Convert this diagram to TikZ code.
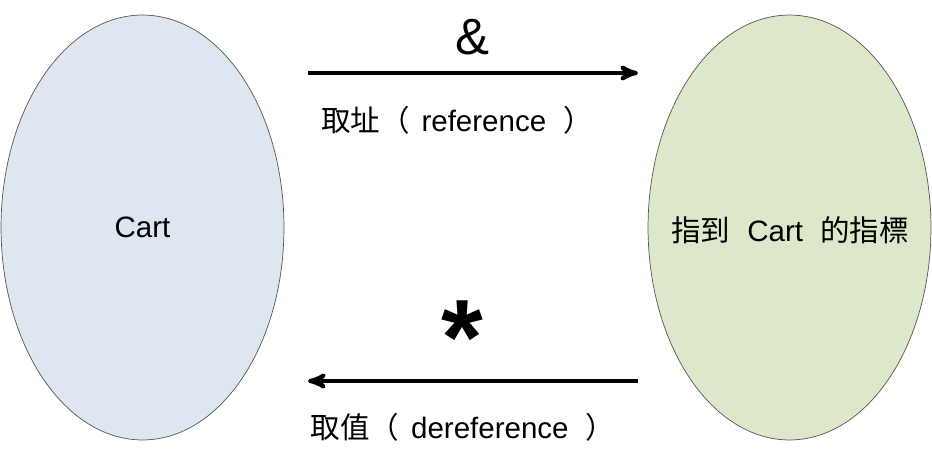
\documentclass[tikz,border=0pt]{standalone}
\usepackage{fontspec}
\setmainfont{Liberation Sans}
\newfontfamily\cjk{Noto Sans CJK TC}
\usetikzlibrary{arrows,shapes.geometric}
\definecolor{cartblue}{HTML}{DEE6EF}
\definecolor{ptrgreen}{HTML}{DDE8CB}
\definecolor{rimgray}{HTML}{555555}

\begin{document}
\begin{tikzpicture}[x=0.02cm,y=0.02cm,>=stealth',
  blob/.style={draw=rimgray,ellipse,minimum width=5.66cm,minimum height=8.5cm,inner sep=0pt},
  every node/.style={font=\fontsize{16.8}{20}\selectfont}]
\useasboundingbox (0,0) rectangle (932,451);

% Locations
\def\TopRow{378}
\def\BottomRow{70}
\def\Gap{\hspace{0.3em}}
\def\SmallGap{\hspace{0.12em}}

% Objects
\path (142.5,223.5) node[blob,fill=cartblue] (Cart) {}
      (789.5,223.5) node[blob,fill=ptrgreen] (Pointer) {};
\node (CartText) at (Cart) {Cart};
\node (PointerText) at (790,221) {{\cjk 指到}\Gap{} Cart \Gap{\cjk 的指標}};

% Ends of the arrows
\path (308,\TopRow) coordinate (RefStart)
      (638,\TopRow) coordinate (RefEnd)
      (638,\BottomRow) coordinate (DerefStart)
      (308,\BottomRow) coordinate (DerefEnd);

% Arrows
\draw[->,line width=2.3pt] (RefStart) -- (RefEnd);
\draw[->,line width=2.3pt] (DerefStart) -- (DerefEnd);

% Labels
\node (Amp) at (472,414) {\fontsize{29}{32}\selectfont\&};
\node (RefText) at (457,331) {{\cjk 取址（}\SmallGap{} reference \Gap{\cjk ）}};
\node[anchor=base] (Star) at (462,77) {\fontsize{61}{66}\selectfont\bfseries *};
\node (DerefText) at (463,24) {{\cjk 取值（}\SmallGap{} dereference \Gap{\cjk ）}};

\end{tikzpicture}
\end{document}
